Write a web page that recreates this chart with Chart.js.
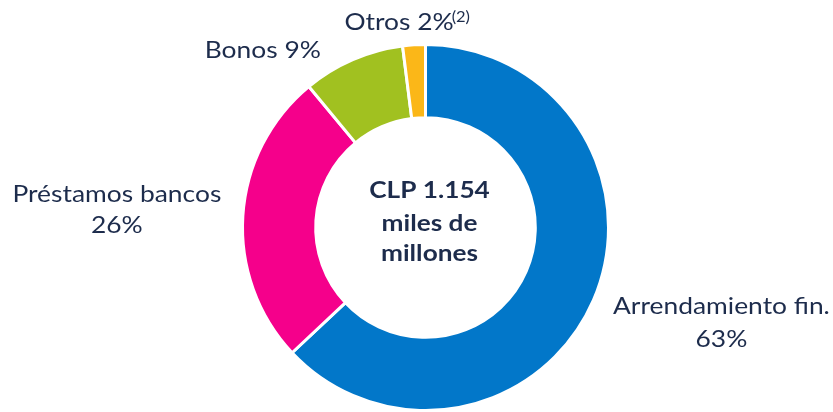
<!DOCTYPE html>
<html>
<head>
<meta charset="utf-8">
<script src="https://cdn.jsdelivr.net/npm/chart.js@4/dist/chart.umd.min.js"></script>
<style>
  html, body { margin: 0; padding: 0; background: #ffffff; }
  #wrap { width: 833px; height: 412px; position: relative; }
</style>
</head>
<body>
<div id="wrap"><canvas id="c" width="833" height="412"></canvas></div>
<script>
// ---- data ----
const categories = ["Arrendamiento fin.", "Préstamos bancos", "Bonos", "Otros"];
const shares = [63, 26, 9, 2];
const centerLines = ["CLP 1.154", "miles de", "millones"];
const footnote = "(2)";

// ---- style ----
const colors = ["#0277C9", "#F5008B", "#A1C120", "#FBB718"];
const textColor = "#1d2c4c";
const fontFamily = "Lato, 'Open Sans', sans-serif";
const stretchX = 1.1;

// label layout relative to each slice's outer mid-point
const labelLayout = [
  { dx: 128, dy: 14, twoLines: true, lineGap: 33 },
  { dx: -126, dy: -14, twoLines: true, lineGap: 31 },
  { dx: -90, dy: -2, twoLines: false },
  { dx: -15, dy: -15, twoLines: false, sup: true }
];

function drawStretched(ctx, text, x, y, sx) {
  ctx.save();
  ctx.translate(x, y);
  ctx.scale(sx, 1);
  ctx.fillText(text, 0, 0);
  ctx.restore();
}

const labelsPlugin = {
  id: 'sliceLabels',
  afterDraw(chart) {
    const ctx = chart.ctx;
    const meta = chart.getDatasetMeta(0);
    ctx.save();
    ctx.fillStyle = textColor;
    ctx.textAlign = 'center';
    ctx.textBaseline = 'alphabetic';
    meta.data.forEach((arc, i) => {
      const p = arc.getProps(['x', 'y', 'startAngle', 'endAngle', 'outerRadius'], true);
      const mid = (p.startAngle + p.endAngle) / 2;
      const ax = p.x + Math.cos(mid) * p.outerRadius;
      const ay = p.y + Math.sin(mid) * p.outerRadius;
      const L = labelLayout[i];
      const x = ax + L.dx, y = ay + L.dy;
      ctx.font = "24px " + fontFamily;
      const pct = shares[i] + "%";
      if (L.twoLines) {
        drawStretched(ctx, categories[i], x, y, stretchX);
        drawStretched(ctx, pct, x, y + L.lineGap, stretchX);
      } else {
        const txt = categories[i] + " " + pct;
        drawStretched(ctx, txt, x, y, stretchX);
        if (L.sup) {
          const w = ctx.measureText(txt).width * stretchX;
          ctx.font = "15px " + fontFamily;
          ctx.textAlign = 'left';
          drawStretched(ctx, footnote, x + w / 2 - 2, y - 8, stretchX);
          ctx.textAlign = 'center';
        }
      }
    });
    // center text
    const a0 = meta.data[0];
    ctx.font = "bold 23px " + fontFamily;
    const cx = a0.x + 4, cy = a0.y;
    drawStretched(ctx, centerLines[0], cx, cy - 30, 1.14);
    drawStretched(ctx, centerLines[1], cx, cy + 3, 1.14);
    drawStretched(ctx, centerLines[2], cx, cy + 33, 1.14);
    ctx.restore();
  }
};

new Chart(document.getElementById('c'), {
  type: 'doughnut',
  data: {
    labels: categories,
    datasets: [{
      data: shares,
      backgroundColor: colors,
      borderColor: '#ffffff',
      borderWidth: 3,
      hoverOffset: 0
    }]
  },
  options: {
    responsive: false,
    animation: false,
    cutout: '60%',
    layout: { padding: { top: 43, bottom: 0, left: 18, right: 0 } },
    plugins: {
      legend: { display: false },
      tooltip: { enabled: false }
    }
  },
  plugins: [labelsPlugin]
});
</script>
</body>
</html>
